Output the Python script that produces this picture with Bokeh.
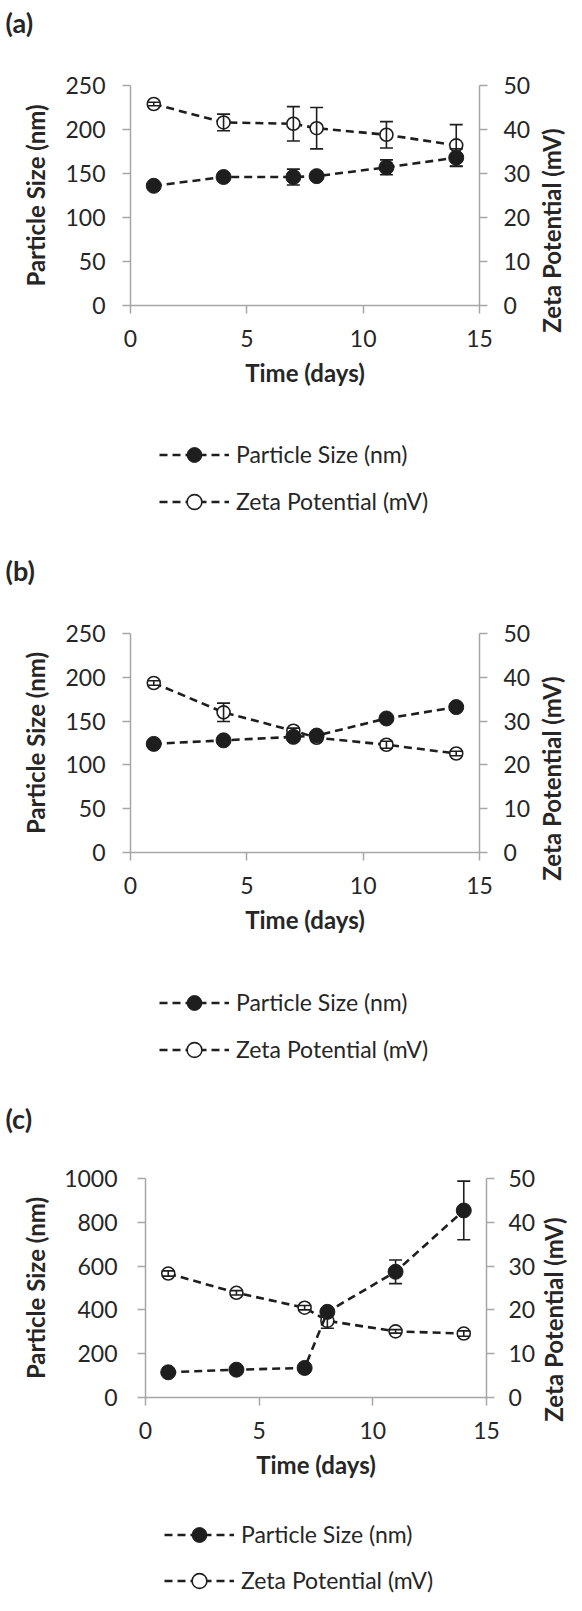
import math
from bokeh.plotting import figure
from bokeh.models import (ColumnDataSource, Range1d, LinearAxis, FixedTicker,
                          Whisker, TeeHead, Legend, LegendItem, Label)
from bokeh.layouts import column, row
from bokeh.embed import file_html
from bokeh.resources import INLINE

# ---------------- data ----------------
days = [1, 4, 7, 8, 11, 14]
day_ticks = [0, 5, 10, 15]
zeta_ticks = [0, 10, 20, 30, 40, 50]
size_ticks_ab = [0, 50, 100, 150, 200, 250]
size_ticks_c = [0, 200, 400, 600, 800, 1000]

size_a = [136, 146, 146, 147, 157, 168]
size_a_err = [1.5, 2.5, 9, 2.5, 8.5, 10]
zeta_a = [45.8, 41.6, 41.3, 40.3, 38.8, 36.4]
zeta_a_err = [0.4, 1.9, 3.9, 4.7, 3.0, 4.7]

size_b = [124, 128, 132, 133.5, 153, 166]
size_b_err = [2, 2, 2, 2, 3, 3]
zeta_b = [38.7, 32.0, 27.8, 26.2, 24.6, 22.6]
zeta_b_err = [0.5, 2.1, 0.6, 0.5, 0.8, 0.5]

size_c = [115, 127, 135, 391, 574, 854]
size_c_err = [5, 5, 5, 12, 54, 134]
zeta_c = [28.3, 23.9, 20.5, 17.5, 15.1, 14.6]
zeta_c_err = [0.6, 0.5, 0.5, 1.7, 0.4, 0.6]

panel_tags = ["(a)", "(b)", "(c)"]
series_labels = ["Particle Size (nm)", "Zeta Potential (mV)"]
x_title = "Time (days)"

FONT = "Lato"
INK = "#1e1e1e"
TXT = "#262626"
AXC = "#a6a6a6"
W = 566
CHART_W = 536
THIN_W = W - CHART_W

LINE_KW = dict(line_dash="8 5", line_width=2.6, line_color=INK)
FILLED_KW = dict(marker="circle", size=15, fill_color=INK, line_color=INK)
OPEN_KW = dict(marker="circle", size=13, fill_color="white", line_color=INK,
               line_width=1.6)


def blank(width, height):
    p = figure(frame_width=width, frame_height=height, min_border=0,
               x_range=Range1d(0, 1), y_range=Range1d(0, 1),
               x_axis_location=None, y_axis_location=None, title=None,
               output_backend="svg", toolbar_location=None)
    p.outline_line_color = None
    p.grid.visible = False
    p.background_fill_color = "white"
    p.border_fill_color = "white"
    return p


def spacer(height, tag=None, tag_y=None, legend=None):
    p = blank(W, height)
    if legend is not None:
        lx, ly, sp = legend
        # legend-only renderers: a single NaN sample, so nothing is drawn in the frame
        key = ColumnDataSource(dict(x=[float("nan")], y=[float("nan")]))
        sl = p.line("x", "y", source=key, **LINE_KW)
        spts = p.scatter("x", "y", source=key, **FILLED_KW)
        zl = p.line("x", "y", source=key, **LINE_KW)
        zpts = p.scatter("x", "y", source=key, **OPEN_KW)
        lg = Legend(items=[LegendItem(label=series_labels[0], renderers=[sl, spts]),
                           LegendItem(label=series_labels[1], renderers=[zl, zpts])],
                    location=(lx, ly), orientation="vertical",
                    glyph_width=70, glyph_height=37, label_height=37,
                    spacing=sp, padding=0, margin=0, label_standoff=7,
                    border_line_color=None, background_fill_alpha=0,
                    label_text_font=FONT, label_text_font_size="23px",
                    label_text_color=TXT)
        p.add_layout(lg)
    if tag is not None:
        p.add_layout(Label(x=5, y=tag_y, x_units="screen", y_units="screen",
                           text=tag, text_font=FONT, text_font_style="bold",
                           text_font_size="27px", text_color=TXT,
                           text_align="left", text_baseline="middle"))
    return p


def chart(size, size_err, zeta, zeta_err, size_max, size_ticks, g):
    height = g["bt"] + g["fh"] + g["bb"]
    p = figure(frame_width=g["fw"], frame_height=g["fh"],
               min_border_left=g["bl"], min_border_right=CHART_W - g["bl"] - g["fw"],
               min_border_top=g["bt"], min_border_bottom=g["bb"],
               x_range=Range1d(0, 15), y_range=Range1d(0, size_max), title=None,
               output_backend="svg", toolbar_location=None)
    p.extra_y_ranges = {"zeta": Range1d(0, 50)}
    p.outline_line_color = None
    p.xgrid.visible = False
    p.ygrid.visible = False
    p.background_fill_color = "white"
    p.border_fill_color = "white"

    p.xaxis.ticker = FixedTicker(ticks=day_ticks)
    p.yaxis.ticker = FixedTicker(ticks=size_ticks)
    p.xaxis.axis_label = x_title
    p.yaxis.axis_label = series_labels[0]

    right = LinearAxis(y_range_name="zeta", ticker=FixedTicker(ticks=zeta_ticks))
    p.add_layout(right, "right")

    for ax in [p.xaxis[0], p.yaxis[0], right]:
        ax.axis_line_color = AXC
        ax.axis_line_width = 1.5
        ax.major_tick_line_color = AXC
        ax.major_tick_line_width = 1.5
        ax.major_tick_in = 0
        ax.major_tick_out = 8
        ax.minor_tick_line_color = None
        ax.major_label_text_font = FONT
        ax.major_label_text_font_size = "23px"
        ax.major_label_text_color = TXT
        ax.axis_label_text_font = FONT
        ax.axis_label_text_font_style = "bold"
        ax.axis_label_text_font_size = "24px"
        ax.axis_label_text_color = TXT
    p.xaxis.major_label_standoff = 16
    p.xaxis.axis_label_standoff = 8
    p.yaxis[0].major_label_standoff = g["ls"]
    p.yaxis[0].axis_label_standoff = g["ts"]
    right.major_label_standoff = g["rls"]

    zsrc = ColumnDataSource(dict(x=days, y=zeta,
                                 upper=[v + e for v, e in zip(zeta, zeta_err)],
                                 lower=[v - e for v, e in zip(zeta, zeta_err)]))
    ssrc = ColumnDataSource(dict(x=days, y=size,
                                 upper=[v + e for v, e in zip(size, size_err)],
                                 lower=[v - e for v, e in zip(size, size_err)]))

    p.line("x", "y", source=zsrc, y_range_name="zeta", **LINE_KW)
    p.scatter("x", "y", source=zsrc, y_range_name="zeta", **OPEN_KW)
    p.line("x", "y", source=ssrc, **LINE_KW)
    p.scatter("x", "y", source=ssrc, **FILLED_KW)

    for src, rn in [(zsrc, "zeta"), (ssrc, "default")]:
        p.add_layout(Whisker(source=src, base="x", upper="upper", lower="lower",
                             dimension="height", line_color=INK, line_width=1.6,
                             upper_head=TeeHead(size=13, line_color=INK, line_width=1.6),
                             lower_head=TeeHead(size=13, line_color=INK, line_width=1.6),
                             level="annotation", y_range_name=rn))

    thin = blank(THIN_W, height)
    thin.add_layout(Label(x=15, y=g["ry"], x_units="screen", y_units="screen",
                          text=series_labels[1], text_font=FONT,
                          text_font_style="bold", text_font_size="24px",
                          text_color=TXT, angle=math.pi / 2,
                          text_align="center", text_baseline="middle"))
    return row(p, thin, spacing=0)


geo_a = dict(fw=349, fh=220, bl=130, bt=31, bb=97, ls=17, ts=12, rls=16, ry=203)
geo_b = dict(fw=349, fh=219, bl=130, bt=31, bb=98, ls=17, ts=12, rls=16, ry=203)
geo_c = dict(fw=341, fh=219, bl=145, bt=28, bb=91, ls=20, ts=11, rls=14, ry=197)

gap0 = spacer(54, tag=panel_tags[0], tag_y=32)
ch_a = chart(size_a, size_a_err, zeta_a, zeta_a_err, 250, size_ticks_ab, geo_a)
gap1 = spacer(200, tag=panel_tags[1], tag_y=32, legend=(159, 82.5, 10))
ch_b = chart(size_b, size_b_err, zeta_b, zeta_b_err, 250, size_ticks_ab, geo_b)
gap2 = spacer(200, tag=panel_tags[2], tag_y=32, legend=(159, 82.5, 10))
ch_c = chart(size_c, size_c_err, zeta_c, zeta_c_err, 1000, size_ticks_c, geo_c)
gap3 = spacer(107, legend=(164, -3.5, 9))

layout = column(gap0, ch_a, gap1, ch_b, gap2, ch_c, gap3, spacing=0)
open("out.html", "w").write(file_html(layout, INLINE))
